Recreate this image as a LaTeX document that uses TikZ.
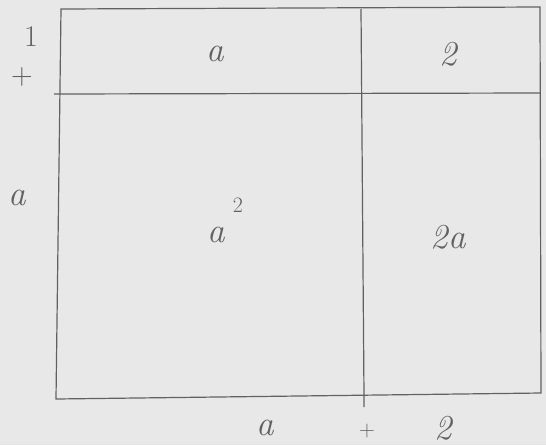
\documentclass[tikz,border=0pt]{standalone}
\usepackage{fontspec}
\setmainfont{Latin Modern Roman}
\begin{document}
\begin{tikzpicture}[x=1pt,y=-1pt,
  pen/.style={draw=black!62,line width=1.2pt},
  hand/.style={text=black!62,font=\fontsize{35}{40}\selectfont\itshape,inner sep=0pt},
  handup/.style={text=black!62,font=\fontsize{30}{34}\selectfont,inner sep=0pt}]
\fill[black!9] (0,0) rectangle (546,445);
\useasboundingbox (0,0) rectangle (546,445);
% corners
\coordinate (tl) at (61,9);
\coordinate (tr) at (540,7);
\coordinate (bl) at (56,399);
\coordinate (br) at (541,393);
\coordinate (ml) at (59,94);
\coordinate (mlx) at (54,94);
\coordinate (mr) at (540,93);
\coordinate (vt) at (361,9);
\coordinate (vb) at (364,396);
\coordinate (vtick) at (364,407);
\draw[pen] (tl) -- (tr) -- (br) -- (bl) -- cycle;
\draw[pen] (mlx) -- (mr);
\draw[pen] (vt) -- (vb) -- (vtick);
% labels
\node[handup] (one) at (31,37) {1};
\node[handup] (plusl) at (22,77) {+};
\node[hand] (al) at (17,198) {a};
\node[hand] (at) at (215,54) {a};
\node[hand] (tt) at (448,54) {2};
\node[hand] (asq) at (216,235) {a};
\node[handup,font=\fontsize{22}{26}\selectfont] (sq) at (238,205) {2};
\node[hand] (twoa) at (448,237) {2a};
\node[hand] (ab) at (265,428) {a};
\node[handup,font=\fontsize{22}{26}\selectfont] (plusb) at (367,431) {+};
\node[hand] (tb) at (443,428) {2};
\end{tikzpicture}
\end{document}
